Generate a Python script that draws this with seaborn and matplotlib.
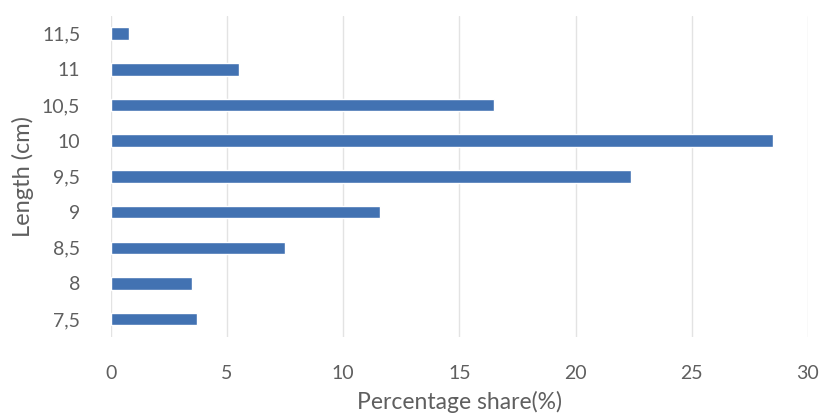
import matplotlib
matplotlib.use("Agg")
import matplotlib.pyplot as plt
import seaborn as sns
import pandas as pd

# Length classes (top to bottom) and their percentage share
lengths = ["11,5", "11", "10,5", "10", "9,5", "9", "8,5", "8", "7,5"]
shares = [0.8, 5.5, 16.5, 28.5, 22.4, 11.6, 7.5, 3.5, 3.7]
x_ticks = [0, 5, 10, 15, 20, 25, 30]

df = pd.DataFrame({"Length (cm)": lengths, "Percentage share(%)": shares})

sns.set_theme(style="white")
plt.rcParams["font.family"] = ["Lato", "DejaVu Sans"]

fig = plt.figure(figsize=(8.27, 4.16), dpi=100)
ax = fig.add_axes([0.134, 0.19, 0.843, 0.772])

sns.barplot(data=df, y="Length (cm)", x="Percentage share(%)", order=lengths,
            orient="h", color="#4272B2", saturation=1, width=0.35, ax=ax)

ax.set_xlim(0, 30)
ax.set_xticks(x_ticks)
ax.set_xticklabels([str(t) for t in x_ticks])
ax.grid(axis="x", color="#e3e3e3", linewidth=1)
ax.set_axisbelow(True)
for s in ax.spines.values():
    s.set_visible(False)

ax.tick_params(axis="both", length=0, colors="#5f5f5f", labelsize=14)
ax.tick_params(axis="x", pad=20)
ax.tick_params(axis="y", pad=22)
ax.set_xlabel("Percentage share(%)", fontsize=16.5, color="#5f5f5f")
ax.set_ylabel("Length (cm)", fontsize=17, color="#5f5f5f")
ax.xaxis.set_label_coords(0.5, -0.168)
ax.yaxis.set_label_coords(-0.11, 0.5)

fig.savefig("out.png", dpi=100)
